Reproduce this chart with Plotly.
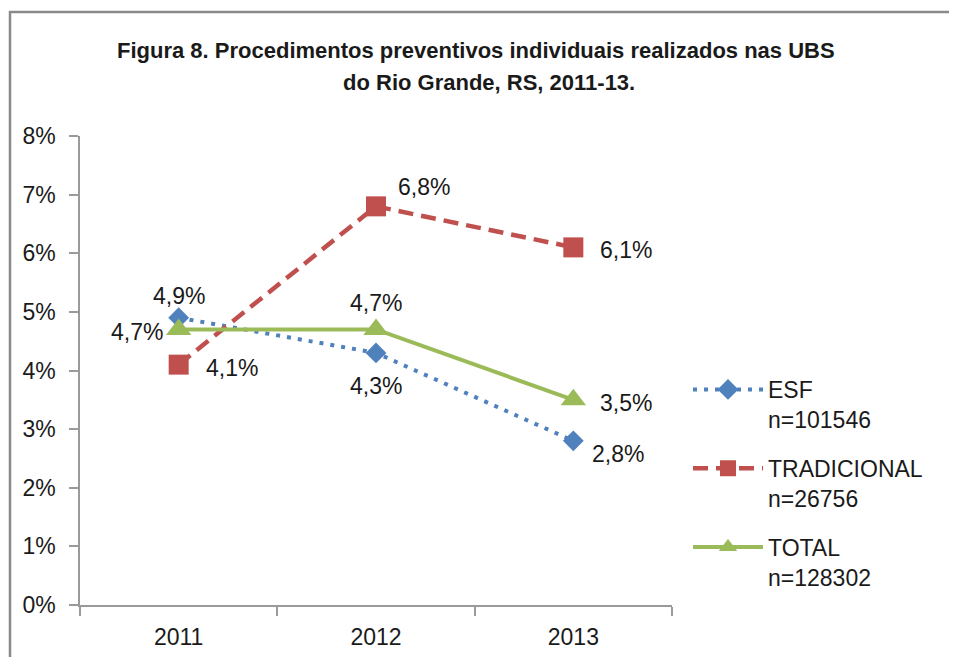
import plotly.graph_objects as go

years = ["2011", "2012", "2013"]
esf = [4.9, 4.3, 2.8]
tradicional = [4.1, 6.8, 6.1]
total = [4.7, 4.7, 3.5]
series_names = ["ESF<br>n=101546", "TRADICIONAL<br>n=26756", "TOTAL<br>n=128302"]
y_ticks = [0, 1, 2, 3, 4, 5, 6, 7, 8]
y_tick_labels = ["0%", "1%", "2%", "3%", "4%", "5%", "6%", "7%", "8%"]
title_lines = ["Figura 8. Procedimentos preventivos individuais realizados nas UBS",
               "do Rio Grande, RS, 2011-13."]

FONT = "Liberation Sans, Arial, sans-serif"
TXT = "#1a1a1a"
AXC = "#9a9a9a"

W, H = 957, 657
OFF = 8  # page body offset
# plot area in screenshot pixels: x 80-672, y 136-605
L = 80 - OFF
T = 136 - OFF
R = W - (672 - OFF)
B = H - (605 - OFF)
PW, PH = W - L - R, H - T - B


def px2x(px):
    return (px - OFF - L) / PW


def py2y(py):
    return (H - B - (py - OFF)) / PH


fig = go.Figure()

styles = [
    dict(color="#4F81BD", dash="4px,7px", width=4, symbol="diamond", size=16),
    dict(color="#C0504D", dash="15px,8px", width=4.5, symbol="square", size=20),
    dict(color="#9BBB59", dash="solid", width=4, symbol="triangle-up", size=22),
]
data = [esf, tradicional, total]

for i, (vals, name, st) in enumerate(zip(data, series_names, styles)):
    fig.add_trace(go.Scatter(
        x=years, y=vals, mode="lines+markers", name=name,
        legendgroup=f"g{i}",
        line=dict(color=st["color"], dash=st["dash"], width=st["width"]),
        marker=dict(symbol=st["symbol"], size=st["size"], color=st["color"],
                    line=dict(width=0)),
    ))

# label offsets (pixel) per series/point
offsets = [
    [(0, -22), (0, 33), (45, 13)],
    [(53, 3), (48, -19), (53, 3)],
    [(-42, 3), (0, -26), (53, 3)],
]
for vals, offs in zip(data, offsets):
    for xi, (v, (dx, dy)) in enumerate(zip(vals, offs)):
        fig.add_annotation(
            x=xi, y=v, xref="x", yref="y", showarrow=False,
            text=f"{v:.1f}%".replace(".", ","),
            xanchor="center", yanchor="middle", xshift=dx, yshift=-dy,
            font=dict(family=FONT, size=23, color=TXT),
        )

# title lines
for line, (cx, cy) in zip(title_lines, [(476, 50), (489, 83)]):
    fig.add_annotation(
        x=px2x(cx), y=py2y(cy), xref="paper", yref="paper", showarrow=False,
        text=f"<b>{line}</b>", xanchor="center", yanchor="middle",
        font=dict(family=FONT, size=22, color=TXT),
    )

# frame (left and top edges only visible)
frame = dict(color="#8a8a8a", width=2.5)
fig.add_shape(type="line", xref="paper", yref="paper",
              x0=px2x(10), x1=px2x(10), y0=py2y(11), y1=py2y(720), line=frame)
fig.add_shape(type="line", xref="paper", yref="paper",
              x0=px2x(9), x1=px2x(1000), y0=py2y(12), y1=py2y(12), line=frame)

fig.update_layout(
    width=W, height=H,
    margin=dict(l=L, r=R, t=T, b=B),
    paper_bgcolor="white", plot_bgcolor="white",
    font=dict(family=FONT, size=23, color=TXT),
    showlegend=True,
    legend=dict(x=px2x(688), y=py2y(368), xanchor="left", yanchor="top",
                font=dict(family=FONT, size=23, color=TXT),
                tracegroupgap=16, valign="top", itemwidth=70,
                bgcolor="rgba(0,0,0,0)"),
    xaxis=dict(type="category", range=[-0.5, 2.5], showgrid=False,
               showline=True, linecolor=AXC, linewidth=1.5,
               ticks="outside", tickson="boundaries", ticklen=9,
               tickcolor=AXC, tickwidth=1.5, ticklabelstandoff=11,
               tickfont=dict(family=FONT, size=23, color=TXT)),
    yaxis=dict(range=[0, 8], tickmode="array", tickvals=y_ticks,
               ticktext=y_tick_labels, showgrid=False,
               showline=True, linecolor=AXC, linewidth=1.5,
               ticks="outside", ticklen=9, tickcolor=AXC, tickwidth=1.5,
               ticklabelstandoff=9, zeroline=False,
               tickfont=dict(family=FONT, size=23, color=TXT)),
)

fig.write_html("out.html")
